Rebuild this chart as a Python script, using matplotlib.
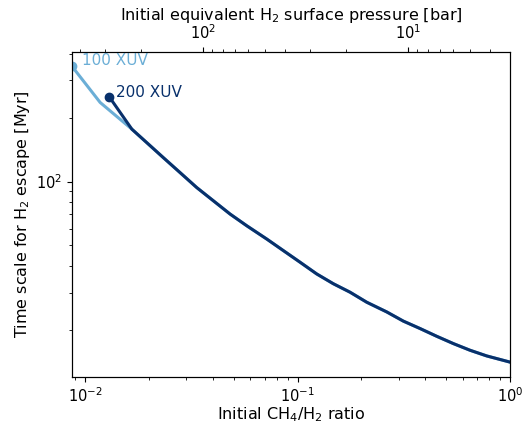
import numpy as np
import matplotlib.pyplot as plt

# common branch (both XUV cases merge here)
ratio_common = [0.0166, 0.01952, 0.02336, 0.0280, 0.03354, 0.04015, 0.04813, 0.05768,
                0.07163, 0.0857, 0.1027, 0.1231, 0.1474, 0.1767, 0.2117, 0.2630,
                0.3147, 0.3771, 0.4519, 0.5411, 0.648, 0.7767, 1.0]
time_common = [176.6, 152.5, 129.6, 110.2, 93.7, 81.2, 70.3, 61.9,
               53.6, 47.3, 41.7, 36.7, 33.0, 30.1, 27.0, 24.3,
               22.0, 20.3, 18.66, 17.24, 16.04, 15.08, 14.1]

# early parts of each XUV case
ratio_100 = [0.00868, 0.01177]
time_100 = [349.0, 236.0]
ratio_200 = [0.0130]
time_200 = [250.6]

# top axis range (equivalent H2 surface pressure, bar)
p_left, p_right = 435.0, 3.18

c100 = '#6baed6'
c200 = '#08306b'

fig = plt.figure(figsize=(5.22, 4.23), dpi=100)
ax = fig.add_axes([0.138, 0.109, 0.839, 0.769])

x100 = ratio_100 + ratio_common
y100 = time_100 + time_common
x200 = ratio_200 + ratio_common
y200 = time_200 + time_common

ax.plot(x100, y100, color=c100, lw=2.2)
ax.plot(x200, y200, color=c200, lw=2.2)
ax.plot(x100[0], y100[0], 'o', color=c100, ms=6)
ax.plot(x200[0], y200[0], 'o', color=c200, ms=6)
ax.annotate('100 XUV', (x100[0], y100[0]), xytext=(7, 4), textcoords='offset points',
            color=c100, fontsize=11, va='center')
ax.annotate('200 XUV', (x200[0], y200[0]), xytext=(5, 3), textcoords='offset points',
            color=c200, fontsize=11, va='center')

ax.set_xscale('log')
ax.set_yscale('log')
ax.set_xlim(min(x100), max(x100))
ax.set_xlabel('Initial CH$_4$/H$_2$ ratio', fontsize=11.5, labelpad=0)
ax.set_ylabel('Time scale for H$_2$ escape [Myr]', fontsize=11.5, labelpad=3)
ax.tick_params(labelsize=10.5)

ax2 = ax.twiny()
ax2.set_xscale('log')
ax2.set_xlim(p_left, p_right)
ax2.set_xlabel('Initial equivalent H$_2$ surface pressure [bar]', fontsize=11.5, labelpad=2.5)
ax2.tick_params(labelsize=10.5)

plt.savefig('out.png', dpi=100)
